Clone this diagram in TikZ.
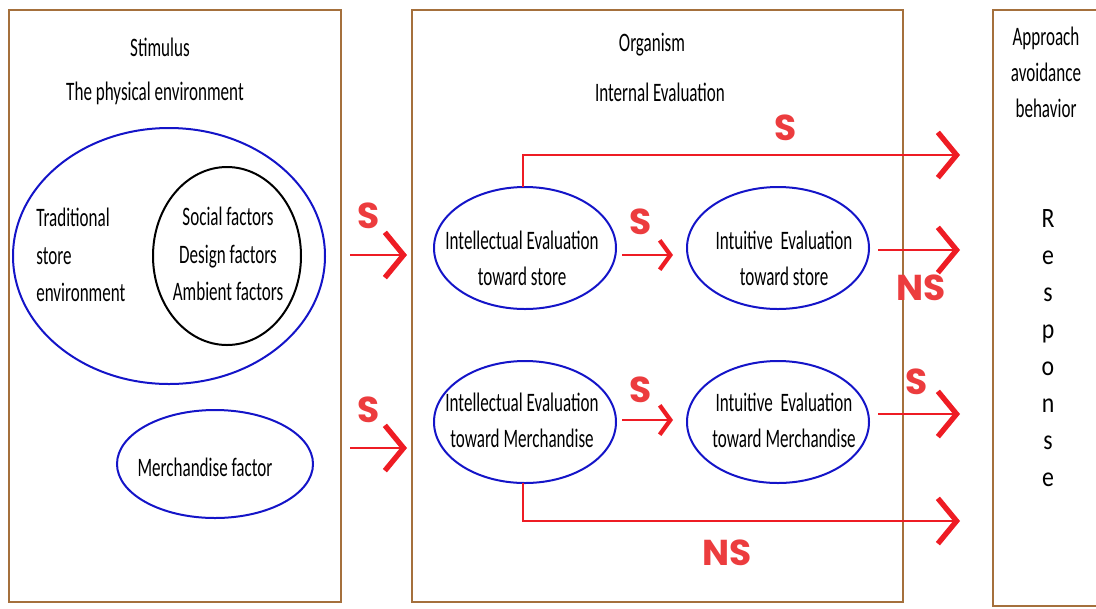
\documentclass[tikz,border=0pt]{standalone}
\usepackage{fontspec}
\setmainfont{Carlito}[FakeStretch=0.64]
\newfontfamily\labfont{Poppins}
\newfontfamily\respfont{Carlito}[FakeStretch=0.85]
\usetikzlibrary{arrows.meta,shapes.geometric}
\definecolor{boxbrown}{RGB}{165,112,60}
\definecolor{eblue}{RGB}{20,20,200}
\definecolor{ared}{RGB}{238,28,36}
\definecolor{lred}{RGB}{236,60,62}
\begin{document}
\begin{tikzpicture}[x=0.75pt,y=-0.75pt,
  panel/.style={draw=boxbrown,line width=1.6pt},
  ell/.style={ellipse,draw=eblue,line width=1.5pt,inner sep=0pt},
  txt/.style={font=\fontsize{20}{27}\selectfont,align=center,inner sep=0pt},
  lab/.style={font=\labfont\bfseries\fontsize{27}{27}\selectfont,text=lred,inner sep=0pt},
  bigarr/.style={draw=ared,line width=2pt,-{Straight Barb[length=14pt,width=34pt,line width=4pt]}},
  smallarr/.style={draw=ared,line width=2pt,-{Straight Barb[length=8pt,width=22pt,line width=3.2pt]}}]
\useasboundingbox (0,0) rectangle (1096,608);
% panels
\draw[panel] (9,10) rectangle (341,602);
\draw[panel] (412,10) rectangle (903,602);
\draw[panel] (1100,10) -- (993,10) -- (993,606) -- (1100,606);
% panel titles
\node[txt] (stim) at (160,47) {Stimulus};
\node[txt] (phys) at (155,93) {The physical environment};
\node[txt] (org) at (652,45) {Organism};
\node[txt] (inte) at (660,92) {Internal Evaluation};
\node[txt] (appr) at (1046,72) {Approach\\avoidance\\behavior};
\node[txt,font=\respfont\fontsize{21}{27.75}\selectfont] (resp) at (1048,348) {R\\e\\s\\p\\o\\n\\s\\e};
% stimulus ellipses
\node[ell,minimum width=234pt,minimum height=192pt] (big) at (169,256) {};
\node[ellipse,draw=black,line width=1.5pt,inner sep=0pt,minimum width=111pt,minimum height=133.5pt] (circ) at (227,256) {};
\node[txt,anchor=west,align=left,font=\fontsize{20}{28}\selectfont] (trad) at (36,255) {Traditional\\store\\environment};
\node[txt,font=\fontsize{20}{28}\selectfont] (fact) at (228,254) {Social factors\\Design factors\\Ambient factors};
\node[ell,minimum width=147pt,minimum height=81pt] (merch) at (215,464) {};
\node[txt] (merchT) at (205,467) {Merchandise factor};
% evaluation ellipses
\node[ell,minimum width=136.5pt,minimum height=91.5pt] (is) at (525,248) {};
\node[txt] (isT) at (522,258) {Intellectual Evaluation\\toward store};
\node[ell,minimum width=136.5pt,minimum height=91.5pt] (us) at (778,248) {};
\node[txt] (usT) at (784,258) {Intuitive\ \ Evaluation\\toward store};
\node[ell,minimum width=136.5pt,minimum height=91.5pt] (im) at (525,422) {};
\node[txt] (imT) at (522,420) {Intellectual Evaluation\\toward Merchandise};
\node[ell,minimum width=136.5pt,minimum height=91.5pt] (um) at (778,422) {};
\node[txt] (umT) at (784,420) {Intuitive\ \ Evaluation\\toward Merchandise};
% coordinates
\coordinate (a1s) at (350,255); \coordinate (a1e) at (407,255);
\coordinate (a2s) at (350,448); \coordinate (a2e) at (407,448);
\coordinate (b1s) at (622,255); \coordinate (b1e) at (673,255);
\coordinate (b2s) at (622,420); \coordinate (b2e) at (673,420);
\coordinate (c1s) at (878,250); \coordinate (c1e) at (960,250);
\coordinate (c2s) at (878,414); \coordinate (c2e) at (960,414);
\coordinate (topE) at (960,155);
\coordinate (botE) at (960,521);
\coordinate (isTop) at (523,187);
\coordinate (imBot) at (523,483);
% arrows
\draw[bigarr] (a1s) -- (a1e);
\draw[bigarr] (a2s) -- (a2e);
\draw[smallarr] (b1s) -- (b1e);
\draw[smallarr] (b2s) -- (b2e);
\draw[bigarr] (c1s) -- (c1e);
\draw[bigarr] (c2s) -- (c2e);
\draw[bigarr] (isTop) |- (topE);
\draw[bigarr] (imBot) |- (botE);
% labels
\node[lab] (l1) at (369,216) {S};
\node[lab] (l2) at (369,410) {S};
\node[lab] (l3) at (641,222) {S};
\node[lab] (l4) at (641,390) {S};
\node[lab] (l5) at (786,128) {S};
\node[lab] (l6) at (921,288) {NS};
\node[lab] (l7) at (917,382) {S};
\node[lab] (l8) at (727,553) {NS};
\end{tikzpicture}
\end{document}
